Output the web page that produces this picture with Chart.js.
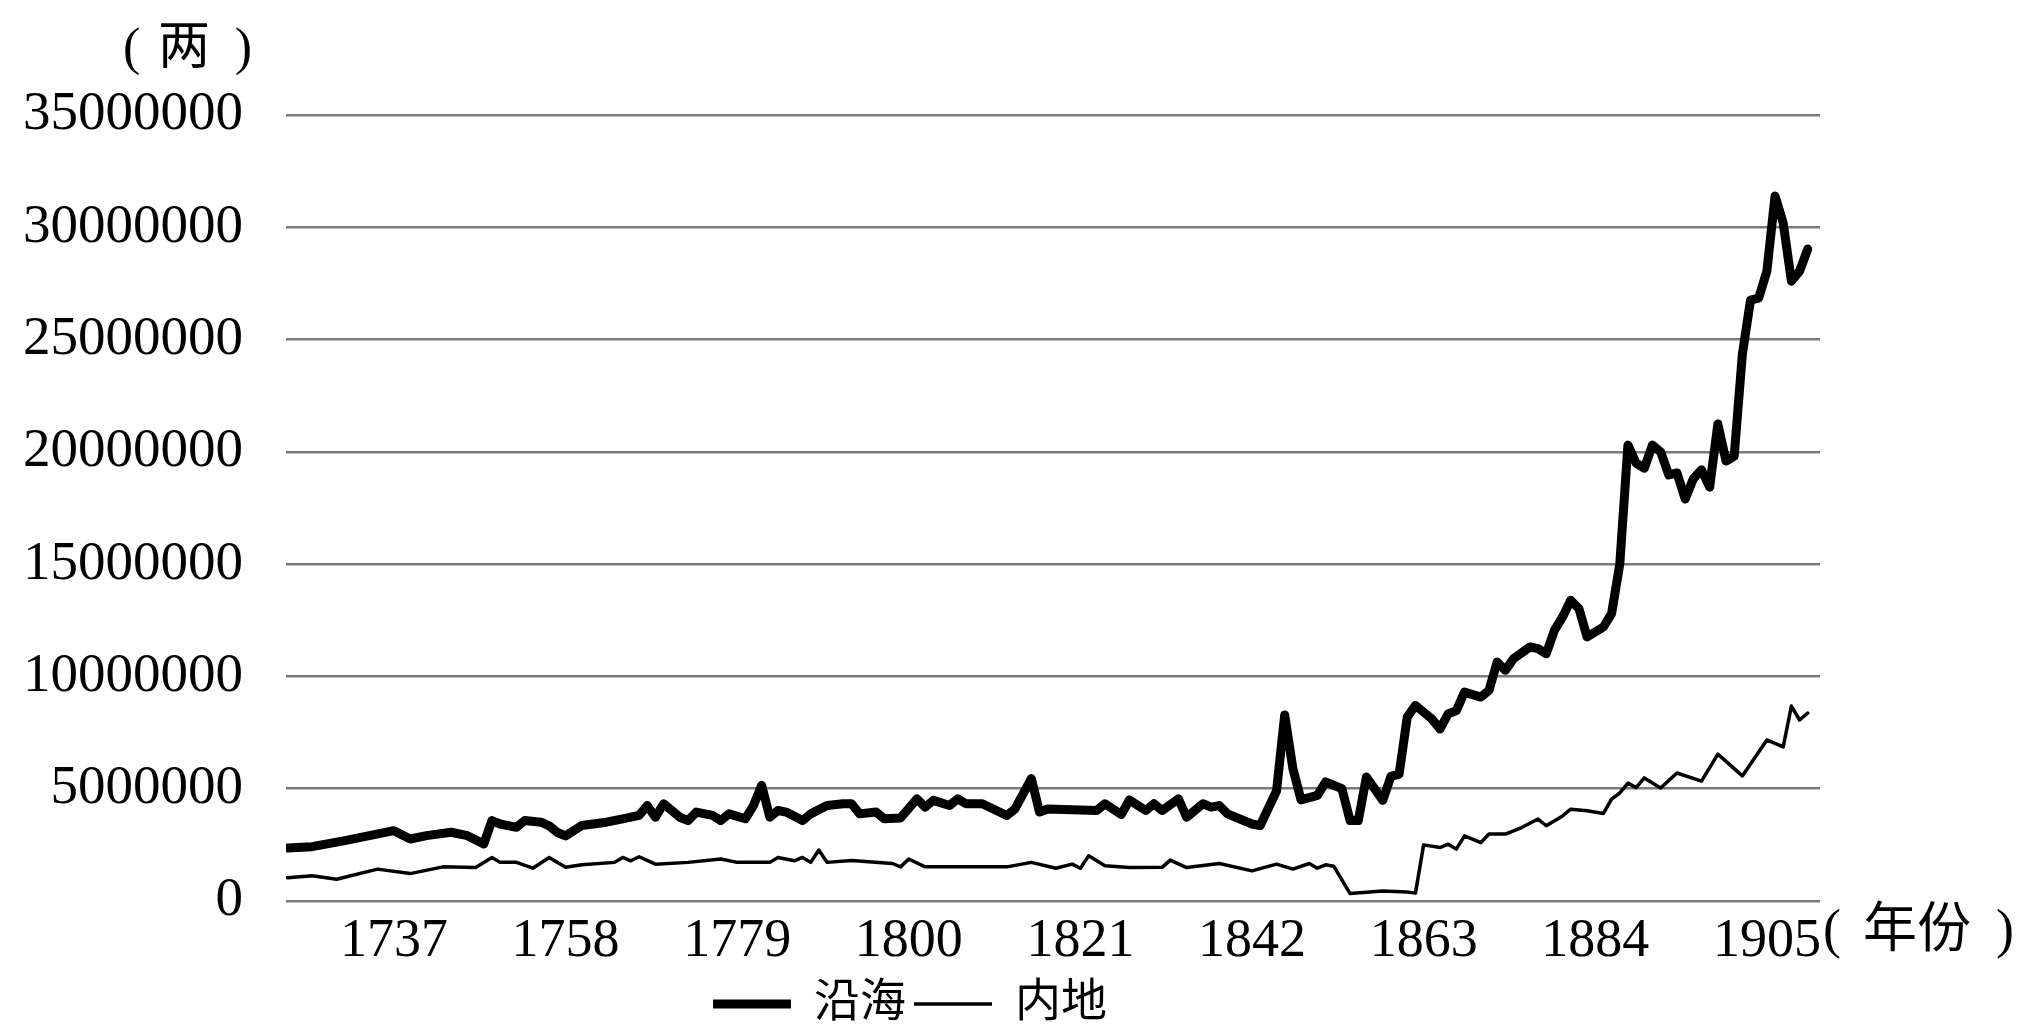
<!DOCTYPE html>
<html>
<head>
<meta charset="utf-8">
<title>沿海与内地</title>
<script src="https://cdn.jsdelivr.net/npm/chart.js@4.4.1/dist/chart.umd.min.js"></script>
<style>
  html, body { margin: 0; padding: 0; background: #fff; }
</style>
</head>
<body>
<canvas id="chart" width="2024" height="1033"></canvas>
<script>
// data (两)
const coastYears = [1724, 1727, 1731, 1734, 1737, 1739, 1741, 1744, 1746, 1748, 1749, 1750, 1752, 1753, 1755, 1756, 1757, 1758,
    1760, 1763, 1765, 1767, 1768, 1769, 1770, 1772, 1773, 1774, 1776, 1777, 1778, 1780, 1781, 1782, 1783, 1784, 1785, 1787, 1788,
    1790, 1792, 1793, 1794, 1796, 1797, 1799, 1801, 1802, 1803, 1805, 1806, 1807, 1809, 1812, 1813, 1815, 1816, 1817, 1820, 1823,
    1824, 1826, 1827, 1829, 1830, 1831, 1833, 1834, 1836, 1837, 1838, 1839, 1842, 1843, 1845, 1846, 1847, 1848, 1850, 1851, 1853,
    1854, 1855, 1856, 1858, 1859, 1860, 1861, 1862, 1864, 1865, 1866, 1867, 1868, 1870, 1871, 1872, 1873, 1874, 1876, 1877, 1878,
    1879, 1880, 1881, 1882, 1883, 1885, 1886, 1887, 1888, 1889, 1890, 1891, 1892, 1893, 1894, 1895, 1896, 1897, 1898, 1899, 1900,
    1901, 1902, 1903, 1904, 1905, 1906, 1907, 1908, 1909, 1910];
const coastValues = [2360000, 2420000, 2690000, 2910000, 3130000, 2760000, 2910000, 3060000, 2910000, 2540000, 3580000, 3430000,
    3280000, 3580000, 3510000, 3350000, 3050000, 2900000,
    3360000, 3510000, 3660000, 3810000, 4250000, 3730000, 4330000, 3730000, 3580000, 3960000, 3810000, 3580000, 3880000, 3660000,
    4250000, 5150000, 3730000, 4030000, 3960000, 3580000, 3880000,
    4250000, 4330000, 4330000, 3880000, 3960000, 3660000, 3700000, 4550000, 4180000, 4480000, 4250000, 4550000, 4330000, 4330000,
    3810000, 4100000, 5450000, 3960000, 4100000, 4060000, 4030000,
    4330000, 3850000, 4500000, 4030000, 4330000, 4030000, 4550000, 3730000, 4330000, 4180000, 4250000, 3880000, 3430000, 3360000,
    4900000, 8280000, 5900000, 4500000, 4700000, 5300000, 5000000,
    3580000, 3580000, 5520000, 4480000, 5550000, 5650000, 8200000, 8710000, 8110000, 7660000, 8330000, 8480000, 9300000, 9080000,
    9380000, 10640000, 10270000, 10790000, 11310000, 11240000, 11010000,
    12050000, 12650000, 13390000, 13020000, 11760000, 12200000, 12800000, 15000000, 20300000, 19500000, 19270000, 20300000,
    20000000, 18970000, 19060000, 17900000, 18800000, 19200000, 18430000, 21240000, 19590000,
    19810000, 24350000, 26760000, 26850000, 28050000, 31390000, 30190000, 27600000, 28050000, 29030000];

const inlandYears = [1724, 1727, 1730, 1735, 1739, 1743, 1747, 1749, 1750, 1752, 1754, 1756, 1758, 1760, 1764, 1765, 1766, 1767,
    1769, 1773, 1777, 1779, 1783, 1784, 1786, 1787, 1788, 1789, 1790, 1793, 1798, 1799, 1800, 1802, 1812, 1815, 1818, 1820, 1821,
    1822, 1824, 1827, 1831, 1832, 1834, 1838, 1842, 1845, 1847, 1849, 1850, 1851, 1852, 1854, 1858, 1861, 1862, 1863, 1865, 1866,
    1867, 1868, 1870, 1871, 1873, 1875, 1877, 1878, 1880, 1881, 1883, 1885, 1886, 1887, 1888, 1889, 1890, 1892, 1894, 1897, 1899,
    1902, 1904, 1905, 1907, 1908, 1909, 1910];
const inlandValues = [1040000, 1120000, 970000, 1420000, 1220000, 1520000, 1490000, 1940000, 1720000, 1720000, 1460000, 1940000,
    1500000, 1610000, 1720000, 1940000, 1790000, 1970000,
    1640000, 1720000, 1870000, 1720000, 1720000, 1940000, 1790000, 1940000, 1720000, 2270000, 1720000, 1800000, 1670000, 1520000,
    1870000, 1520000, 1520000, 1720000, 1460000, 1640000, 1460000,
    2010000, 1570000, 1490000, 1500000, 1820000, 1490000, 1670000, 1340000, 1640000, 1420000, 1670000, 1460000, 1610000, 1550000,
    330000, 450000, 400000, 350000, 2500000, 2380000, 2530000,
    2310000, 2900000, 2600000, 2980000, 2980000, 3270000, 3650000, 3350000, 3790000, 4090000, 4020000, 3900000, 4540000, 4810000,
    5250000, 5050000, 5480000, 5030000, 5700000, 5340000, 6540000,
    5570000, 6630000, 7170000, 6860000, 8680000, 8060000, 8370000];

const seriesNames = ['沿海', '内地'];
const yearTicks = [1737, 1758, 1779, 1800, 1821, 1842, 1863, 1884, 1905];
const yTickStep = 5000000;
const yMax = 35000000;

const numFont = "'Liberation Serif', 'Times New Roman', serif";
const cjkFont = "'Liberation Serif', 'Noto Sans CJK SC', serif";

function toPoints(xs, ys) {
    return xs.map((x, i) => ({ x: x, y: ys[i] }));
}

// unit texts: (两) above the y axis, (年份) after the last year
const unitLabels = {
    id: 'unitLabels',
    afterDraw(chart) {
        const ctx = chart.ctx;
        const area = chart.chartArea;
        ctx.save();
        ctx.fillStyle = '#000';
        ctx.textBaseline = 'middle';

        ctx.font = "52px " + cjkFont;
        ctx.textAlign = 'left';
        ctx.fillText('(', 123, 50);
        ctx.textAlign = 'center';
        ctx.fillText('两', 184, 50);
        ctx.textAlign = 'right';
        ctx.fillText(')', 252, 50);

        const y = area.bottom + 32;
        ctx.font = "54px " + cjkFont;
        ctx.textAlign = 'left';
        ctx.fillText('(', area.right + 3, y);
        ctx.textAlign = 'center';
        ctx.fillText('年份', area.right + 97, y);
        ctx.textAlign = 'right';
        ctx.fillText(')', 2014, y);
        ctx.restore();
    }
};

const chart = new Chart(document.getElementById('chart'), {
    type: 'line',
    data: {
        datasets: [{
            label: seriesNames[0],
            data: toPoints(coastYears, coastValues),
            borderColor: '#000',
            backgroundColor: '#000',
            borderWidth: 9,
            pointRadius: 0,
            pointStyle: 'line',
            tension: 0,
            borderJoinStyle: 'round',
            borderCapStyle: 'round'
        }, {
            label: seriesNames[1],
            data: toPoints(inlandYears, inlandValues),
            borderColor: '#000',
            backgroundColor: '#000',
            borderWidth: 3.5,
            pointRadius: 0,
            pointStyle: 'line',
            tension: 0,
            borderJoinStyle: 'round',
            borderCapStyle: 'round'
        }]
    },
    options: {
        responsive: false,
        animation: false,
        layout: { padding: { left: 0, right: 204, top: 115, bottom: -4 } },
        plugins: {
            legend: {
                position: 'bottom',
                labels: {
                    usePointStyle: true,
                    pointStyleWidth: 78,
                    padding: 8,
                    color: '#000',
                    font: { family: cjkFont, size: 46 }
                }
            },
            tooltip: { enabled: false }
        },
        scales: {
            x: {
                type: 'linear',
                min: 1723.8,
                max: 1911.5,
                afterBuildTicks: scale => { scale.ticks = yearTicks.map(v => ({ value: v })); },
                afterFit: scale => { scale.height = 72; },
                grid: { display: false },
                border: { display: false },
                ticks: {
                    autoSkip: false,
                    maxRotation: 0,
                    padding: 0,
                    color: '#000',
                    font: { family: numFont, size: 54 },
                    callback: v => String(v)
                }
            },
            y: {
                min: 0,
                max: yMax,
                afterFit: scale => { scale.width = 286; },
                grid: { color: '#7a7a7a', lineWidth: 2.5, drawTicks: false },
                border: { display: false },
                ticks: {
                    stepSize: yTickStep,
                    padding: 43,
                    color: '#000',
                    font: { family: numFont, size: 55 },
                    callback: v => String(v)
                }
            }
        }
    },
    plugins: [unitLabels]
});
</script>
</body>
</html>
